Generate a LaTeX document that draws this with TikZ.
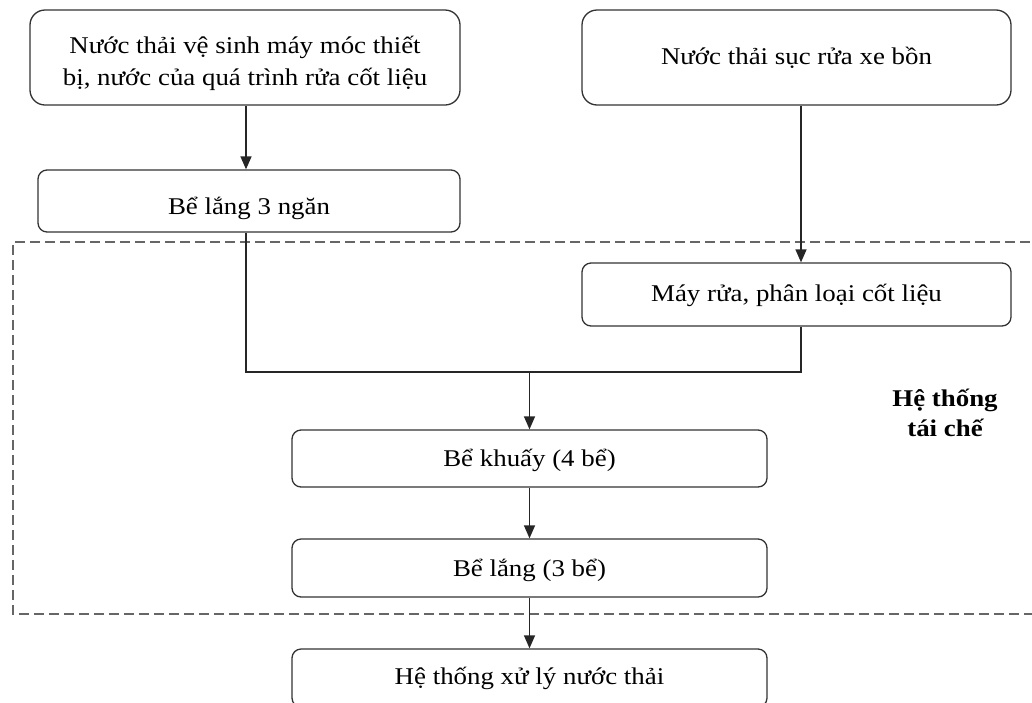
\documentclass[tikz,border=0pt]{standalone}
\usepackage{fontspec}
\setmainfont{Liberation Serif}[FakeStretch=1.12]
\usetikzlibrary{arrows.meta}
\newcommand{\lowered}[2]{\raisebox{-#1}[\height][\depth]{#2}}
\begin{document}
\begin{tikzpicture}[x=1pt,y=-1pt,
  box/.style={draw=black!80, line width=1.3pt, rounded corners=9pt, inner sep=0pt,
    align=center, font=\fontsize{24}{31.5}\selectfont},
  bigbox/.style={box, rounded corners=15pt},
  flow/.style={draw=black!85, line width=1.4pt},
  arr/.style={flow, -{Triangle[length=13pt,width=11pt]}},
  frame/.style={draw=black!60, line width=1.5pt, dash pattern=on 10pt off 5pt}]
\useasboundingbox (0,0) rectangle (1032,702);

% dashed boundary of the recycling system (right side runs off the page)
\draw[frame] (1045,242) -- (13,242) -- (13,614) -- (1045,614);

% process boxes
\node[bigbox, minimum width=430pt, minimum height=95pt, text height=60pt, text depth=5pt] (src1) at (245,57.5)
  {Nước thải vệ sinh máy móc thiết\\bị, nước của quá trình rửa cốt liệu};
\node[bigbox, minimum width=429pt, minimum height=95pt] (src2) at (796.5,57.5)
  {Nước thải sục rửa xe bồn};
\node[box, minimum width=422pt, minimum height=62pt] (settle3) at (249,201)
  {\lowered{7pt}{Bể lắng 3 ngăn}};
\node[box, minimum width=429pt, minimum height=63pt] (washer) at (796.5,294.5)
  {\lowered{1pt}{Máy rửa, phân loại cốt liệu}};
\node[box, minimum width=475pt, minimum height=57pt] (mixer) at (529.5,458.5)
  {\lowered{2pt}{Bể khuấy (4 bể)}};
\node[box, minimum width=475pt, minimum height=58pt] (settle) at (529.5,568)
  {\lowered{2pt}{Bể lắng (3 bể)}};
\node[box, minimum width=475pt, minimum height=58pt] (treat) at (529.5,678)
  {Hệ thống xử lý nước thải};

% label of the recycling system
\node[align=center, font=\fontsize{24}{30}\selectfont\bfseries] (sys) at (945,413)
  {Hệ thống\\tái chế};

% connectors
\coordinate (a1) at ([xshift=1pt]src1.south);
\draw[arr] (a1) -- (a1 |- settle3.north);
\coordinate (a2) at ([xshift=4.5pt]src2.south);
\draw[arr] (a2) -- (a2 |- washer.north);
\coordinate (j1) at ([xshift=-3pt]settle3.south);
\coordinate (j2) at ([xshift=4.5pt]washer.south);
\coordinate (jm) at (mixer.north |- 0,372);
\draw[flow] (j1) -- (j1 |- jm) -- (j2 |- jm) -- (j2);
\draw[arr] (jm) -- (mixer.north);
\draw[arr] (mixer.south) -- (settle.north);
\draw[arr] (settle.south) -- (treat.north);
\end{tikzpicture}
\end{document}
